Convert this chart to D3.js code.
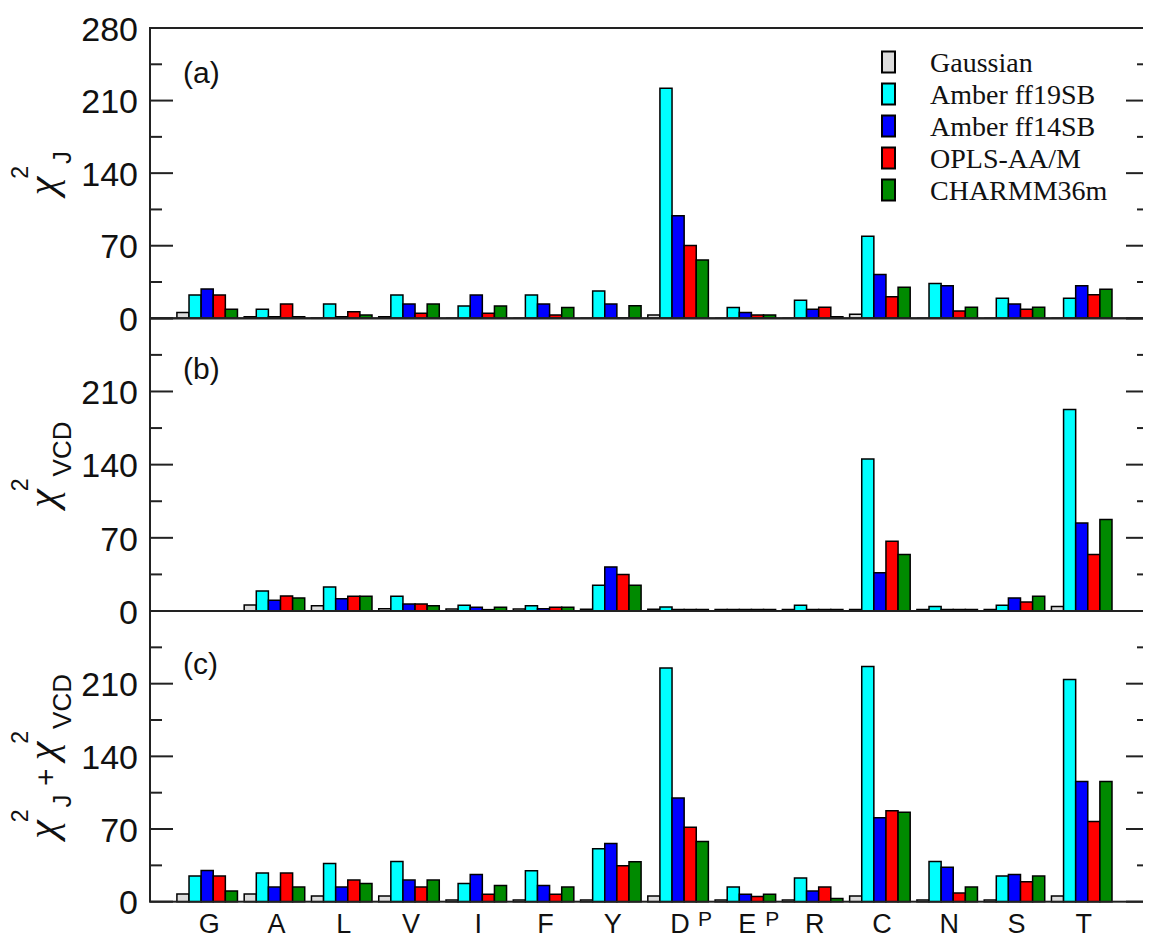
<!DOCTYPE html>
<html><head><meta charset="utf-8">
<script src="https://cdn.jsdelivr.net/npm/d3@7"></script>
<style>html,body{margin:0;padding:0;background:#fff;}</style>
</head><body>
<svg id="chart" width="1151" height="939"></svg>
<script>
const categories = ["G","A","L","V","I","F","Y","D","E","R","C","N","S","T"];
const catSuper   = ["","","","","","","","P","P","","","","",""];
const seriesNames = ["Gaussian","Amber ff19SB","Amber ff14SB","OPLS-AA/M","CHARMM36m"];
const seriesColors = ["#dcdcdc","#00ffff","#0000ff","#ff0000","#008a00"];
const yTicks = [0,70,140,210,280];
const yMinor = [35,105,175,245];

// panel (a) chi^2_J
const jGaussian = [5.5,1.5,0.3,1.5,0,0,0,3.2,0,0,3.9,0,0,0];
const jFF19     = [22.5,8.7,13.8,22.5,11.9,22.5,26.4,222,10.3,17.4,79.2,33.5,19.3,19.3];
const jFF14     = [28.3,1.5,1.5,13.8,22.5,13.8,13.8,98.8,5.5,8.7,42.2,31.5,13.8,31.5];
const jOPLS     = [22.5,13.8,6.4,4.8,4.8,3.2,0.5,70.2,3.2,10.6,20.9,7.1,8.7,22.8];
const jCHARMM   = [8.7,1.5,3.2,13.8,11.9,10.3,12.2,56.3,3.2,1.6,29.9,10.6,10.6,28];
// panel (b) chi^2_VCD
const vGaussian = [0,5.8,5.1,2.2,1.9,1.9,1.6,1.6,1.5,1.5,1.5,1.5,1.5,4.2];
const vFF19     = [0,19.2,23,14.1,5.4,5.1,24.6,3.8,1.5,5.4,145.4,4.2,5.4,192.7];
const vFF14     = [0,10.2,11.8,6.7,3.5,2.2,42.2,1.5,1.5,1.5,36.7,1.5,12.5,84.3];
const vOPLS     = [0,14.4,14.1,6.7,1.3,3.5,34.8,1.5,1.5,1.5,66.8,1.5,8.6,54];
const vCHARMM   = [0,12.5,14.1,5.1,3.5,3.5,24.6,1.5,1.5,1.5,54,1.5,14.1,87.5];
// panel (c) chi^2_J + chi^2_VCD
const sGaussian = [7.4,7.4,5.4,5.4,1.6,1.6,1.6,5.4,1.6,1.6,5.4,1.6,1.6,5.4];
const sFF19     = [24.7,27.6,36.9,38.8,17.6,29.8,51,225,14.1,22.8,226.6,38.8,24.7,214];
const sFF14     = [30.1,14.1,14.1,20.8,26.3,15.7,56.1,100,7.1,10.3,80.8,33.3,26.3,115.7];
const sOPLS     = [24.7,27.6,20.8,14.1,7.1,7.1,34.6,71.8,5.1,14.1,87.5,8.3,19.2,77.2];
const sCHARMM   = [10.3,14.1,17.6,20.8,15.7,14.1,38.5,58,7.1,3.2,86.2,14.1,24.7,115.7];

const panels = [
  {id:"a", top:28, bottom:318.3, data:[jGaussian,jFF19,jFF14,jOPLS,jCHARMM], labelY:83, showTop:true,
   ylab:[{t:"χ",k:"m"},{t:"2",k:"sup"},{t:"J",k:"sub"}]},
  {id:"b", top:318.3, bottom:611, data:[vGaussian,vFF19,vFF14,vOPLS,vCHARMM], labelY:379, showTop:false,
   ylab:[{t:"χ",k:"m"},{t:"2",k:"sup"},{t:"VCD",k:"sub"}]},
  {id:"c", top:611, bottom:901.7, data:[sGaussian,sFF19,sFF14,sOPLS,sCHARMM], labelY:674, showTop:false,
   ylab:[{t:"χ",k:"m"},{t:"2",k:"sup"},{t:"J",k:"sub"},{t:" + ",k:"plus"},{t:"χ",k:"m"},{t:"2",k:"sup"},{t:"VCD",k:"sub"}]}
];

const svg = d3.select("#chart");
const left = 150, right = 1149, clipRight = 1143;
const x = d3.scaleLinear().domain([0.15, 15]).range([left, right]);
const bw = 0.18;
const axisColor = "#222";

svg.append("defs").append("clipPath").attr("id","clipR")
  .append("rect").attr("x",0).attr("y",0).attr("width",clipRight).attr("height",939);
const root = svg.append("g").attr("clip-path","url(#clipR)");

panels.forEach(p => {
  const y = d3.scaleLinear().domain([0,280]).range([p.bottom, p.top]);
  const g = root.append("g");
  // bars
  p.data.forEach((arr, k) => {
    g.selectAll(null).data(arr).enter().append("path")
      .attr("d", (v,i) => {
        const x0 = x(i+1 + (k-2.5)*bw), x1 = x(i+1 + (k-1.5)*bw);
        const y0 = y(0), y1 = y(v);
        return `M${x0},${y0}V${y1}H${x1}V${y0}Z`;
      })
      .attr("fill", seriesColors[k]).attr("stroke","#000").attr("stroke-width",1.5);
  });
  // left axis
  const yl = d3.axisLeft(y).tickValues(p.showTop ? yTicks : yTicks.slice(0,4)).tickSize(0).tickPadding(12).tickFormat(d3.format("d"));
  const ga = g.append("g").attr("transform",`translate(${left},0)`).call(yl);
  ga.select(".domain").remove();
  ga.selectAll("text").attr("font-family","'Liberation Sans', Arial, sans-serif").attr("font-size",34).attr("fill","#111").attr("dy","0.36em");
  // ticks both sides (inward)
  const tickG = g.append("g").attr("stroke",axisColor).attr("stroke-width",2);
  yTicks.forEach(t => {
    tickG.append("line").attr("x1",left).attr("x2",left+23).attr("y1",y(t)).attr("y2",y(t));
    tickG.append("line").attr("x1",right).attr("x2",right-23).attr("y1",y(t)).attr("y2",y(t));
  });
  yMinor.forEach(t => {
    tickG.append("line").attr("x1",left).attr("x2",left+12).attr("y1",y(t)).attr("y2",y(t));
    tickG.append("line").attr("x1",right).attr("x2",right-12).attr("y1",y(t)).attr("y2",y(t));
  });
  // frame
  g.append("rect").attr("x",left).attr("y",p.top).attr("width",right-left).attr("height",p.bottom-p.top)
    .attr("fill","none").attr("stroke",axisColor).attr("stroke-width",2);
  // panel label
  g.append("text").attr("x",183).attr("y",p.labelY).text(`(${p.id})`)
    .attr("font-family","'Liberation Sans', Arial, sans-serif").attr("font-size",30).attr("fill","#111");
  // y axis label
  const cy = (p.top + p.bottom)/2;
  const lt = svg.append("text").attr("transform",`translate(56,${cy}) rotate(-90)`)
    .attr("text-anchor","middle").attr("fill","#111");
  let cur = 0;
  p.ylab.forEach(s => {
    const ts = lt.append("tspan").text(s.t);
    let target = 0;
    if (s.k === "m") { ts.attr("font-family","'Liberation Serif', serif").attr("font-style","italic").attr("font-size",42); target = 0; }
    else if (s.k === "sup") { ts.attr("font-family","'Liberation Sans', Arial, sans-serif").attr("font-size",23).attr("dx",-2); target = -28; }
    else if (s.k === "sub") { ts.attr("font-family","'Liberation Sans', Arial, sans-serif").attr("font-size",26).attr("dx",2); target = 15; }
    else { ts.attr("font-family","'Liberation Sans', Arial, sans-serif").attr("font-size",30).style("white-space","pre"); target = 0; }
    ts.attr("dy", target - cur);
    cur = target;
  });
});

// x category labels
const lab = svg.append("g").attr("font-family","'Liberation Sans', Arial, sans-serif").attr("fill","#111");
categories.forEach((c,i) => {
  const cx = x(i+1) + 2;
  lab.append("text").attr("x",cx).attr("y",933).attr("text-anchor","middle").attr("font-size",27).text(c);
  if (catSuper[i]) {
    lab.append("text").attr("x",cx + 18).attr("y",926).attr("font-size",21).text(catSuper[i]);
  }
});

// legend
const leg = svg.append("g");
const legRows = [62, 94, 126, 158, 190];
seriesNames.forEach((n,k) => {
  leg.append("rect").attr("x",882).attr("y",legRows[k]-10.5).attr("width",13).attr("height",21)
    .attr("fill",seriesColors[k]).attr("stroke","#000").attr("stroke-width",2);
  leg.append("text").attr("x",930).attr("y",legRows[k]+10).text(n)
    .attr("font-family","'Liberation Serif', 'Times New Roman', serif").attr("font-size",28).attr("fill","#111");
});
</script>
</body></html>
